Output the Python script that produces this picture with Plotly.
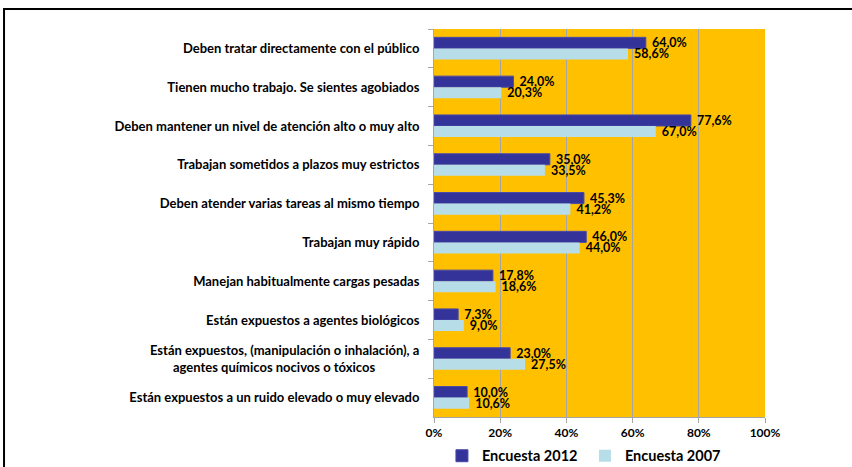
import plotly.graph_objects as go

categories = [
    "Deben tratar directamente con el público",
    "Tienen mucho trabajo. Se sientes agobiados",
    "Deben mantener un nivel de atención alto o muy alto",
    "Trabajan sometidos a plazos muy estrictos",
    "Deben atender varias tareas al mismo tiempo",
    "Trabajan muy rápido",
    "Manejan habitualmente cargas pesadas",
    "Están expuestos a agentes biológicos",
    "Están expuestos, (manipulación o inhalación), a<br>agentes químicos nocivos o tóxicos" + "\u00a0" * 14,
    "Están expuestos a un ruido elevado o muy elevado",
]
encuesta_2012 = [64.0, 24.0, 77.6, 35.0, 45.3, 46.0, 17.8, 7.3, 23.0, 10.0]
encuesta_2007 = [58.6, 20.3, 67.0, 33.5, 41.2, 44.0, 18.6, 9.0, 27.5, 10.6]
x_ticks = [0, 20, 40, 60, 80, 100]


def pct(v):
    return " " + f"{v:.1f}%".replace(".", ",")


FONT = "Lato"
label_font = dict(family=FONT, size=12.5, color="black", weight="bold")

fig = go.Figure()
fig.add_trace(go.Bar(
    y=categories, x=encuesta_2012, orientation="h", name="Encuesta 2012",
    marker=dict(color="#333399", line=dict(color="#4a4aa8", width=1)),
    text=[pct(v) for v in encuesta_2012], textposition="outside",
    textfont=label_font, cliponaxis=False, constraintext="none",
))
fig.add_trace(go.Bar(
    y=categories, x=encuesta_2007, orientation="h", name="Encuesta 2007",
    marker=dict(color="#B7DEE8", line=dict(width=0)),
    text=[pct(v) for v in encuesta_2007], textposition="outside",
    textfont=label_font, cliponaxis=False, constraintext="none",
))

# outer frame (left and top edges)
fig.add_shape(type="path", xref="paper", yref="paper",
              path="M -1.299 -0.2 L -1.299 1.0515 L 1.3 1.0515",
              line=dict(color="black", width=2))

fig.update_layout(
    width=852, height=467,
    margin=dict(l=434, r=87, t=29, b=50, autoexpand=False),
    paper_bgcolor="white", plot_bgcolor="#FFC000",
    barmode="group", bargap=0.43, bargroupgap=0,
    font=dict(family=FONT, color="black"),
    showlegend=True,
    legend=dict(orientation="h", x=0.024, xanchor="left", y=-0.1, yanchor="middle",
                font=dict(family=FONT, size=14.5, weight="bold"), traceorder="normal",
                itemwidth=30, entrywidth=98),
)
fig.update_xaxes(
    range=[0, 100], tickvals=x_ticks, ticktext=[f"{t}%" for t in x_ticks],
    showgrid=True, gridcolor="#A6A6A6", gridwidth=1,
    showline=True, linecolor="#A6A6A6", zeroline=False,
    ticks="outside", ticklen=5, tickcolor="#A6A6A6",
    tickfont=dict(family=FONT, size=12, weight="bold"), automargin=False,
)
fig.update_yaxes(
    autorange="reversed", showline=True, linecolor="#A6A6A6",
    ticks="outside", tickson="boundaries", ticklen=5, tickcolor="#A6A6A6",
    tickfont=dict(family=FONT, size=13, weight="bold"), ticklabelstandoff=11,
    showgrid=False, automargin=False,
)

fig.write_html("out.html", config={"displayModeBar": False},
               post_script="document.body.style.margin = '0px';")
